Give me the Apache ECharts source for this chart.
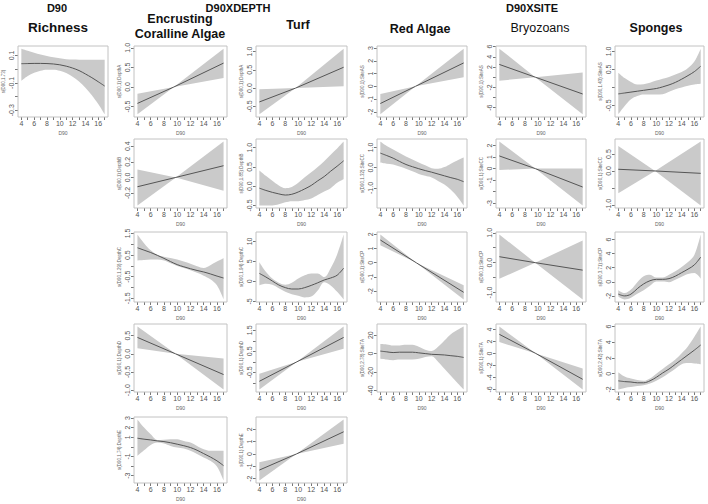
<!DOCTYPE html>
<html><head><meta charset="utf-8">
<script src="https://cdn.jsdelivr.net/npm/echarts@6/dist/echarts.min.js"></script>
<style>html,body{margin:0;padding:0;background:#fff}#c{width:708px;height:504px}</style>
</head><body><div id="c"></div>
<script>
// ---------- data ----------
const D90 = [4,5,6,7,8,9,10,11,12,13,14,15,16,17];
const X_TICKS = [4,5,6,7,8,9,10,11,12,13,14,15,16,17];
const X_LABELS = [4,6,8,10,12,14,16];

// Richness (D90)
const richFit = [0.04,0.041,0.042,0.042,0.041,0.038,0.032,0.022,0.008,-0.01,-0.035,-0.062,-0.092,-0.123];
const richLo  = [-0.085,-0.05,-0.027,-0.012,-0.004,-0.004,-0.012,-0.028,-0.055,-0.09,-0.135,-0.19,-0.255,-0.33];
const richHi  = [0.15,0.135,0.12,0.107,0.096,0.087,0.079,0.073,0.07,0.069,0.069,0.069,0.069,0.069];

// Encrusting Coralline Algae
const ecaAX = [4,9.5,17], ecaAFit = [-0.42,0,0.61], ecaALo = [-0.7,0,0.23], ecaAHi = [-0.17,0,0.98];
const ecaBX = [4,9.8,17], ecaBFit = [-0.12,0,0.15], ecaBLo = [-0.36,0,-0.17], ecaBHi = [0.1,0,0.46];
const ecaCFit = [0.84,0.73,0.62,0.49,0.35,0.2,0.06,-0.04,-0.13,-0.21,-0.28,-0.37,-0.47,-0.56];
const ecaCHi  = [1.45,1.05,0.72,0.52,0.43,0.37,0.3,0.2,0.1,-0.02,-0.1,0.03,0.2,0.35];
const ecaCLo  = [0.25,0.27,0.3,0.3,0.25,0.12,0.0,-0.1,-0.2,-0.32,-0.45,-0.62,-0.9,-1.55];
const ecaDX = [4,9.75,17], ecaDFit = [0.45,0,-0.57], ecaDLo = [0.15,0,-0.98], ecaDHi = [0.75,0,-0.13];
const ecaEFit = [0.9,0.8,0.72,0.62,0.55,0.43,0.28,0.12,-0.07,-0.35,-0.7,-1.05,-1.45,-1.95];
const ecaEHi  = [2.85,2.0,1.3,0.72,0.75,0.8,0.8,0.62,0.45,0.1,-0.24,-0.4,-0.4,-0.4];
const ecaELo  = [-0.93,-0.35,0.2,0.45,0.35,0.1,-0.07,-0.17,-0.4,-0.75,-1.1,-1.45,-2.05,-3.5];

// Turf
const turfAX = [4,9.6,17], turfAFit = [-0.38,0,0.57], turfALo = [-0.72,0,0.05], turfAHi = [-0.03,0,1.08];
const turfBFit = [-0.05,-0.11,-0.16,-0.2,-0.23,-0.21,-0.15,-0.07,0.02,0.14,0.25,0.39,0.52,0.66];
const turfBHi  = [0.41,0.27,0.14,0.02,-0.05,-0.02,0.09,0.23,0.36,0.5,0.65,0.82,0.98,1.16];
const turfBLo  = [-0.5,-0.5,-0.5,-0.47,-0.42,-0.39,-0.39,-0.36,-0.32,-0.23,-0.14,-0.05,0.09,0.18];
const turfCFit = [2.0,1.1,0.1,-0.9,-1.55,-1.9,-1.9,-1.55,-1.0,-0.35,0.35,0.85,1.55,3.3];
const turfCHi  = [4.8,2.4,0.7,-0.35,-0.85,-0.35,0.7,1.55,2.0,2.0,1.1,3.3,6.7,11.7];
const turfCLo  = [-1.0,-0.6,-0.85,-1.7,-2.6,-3.2,-3.6,-4.0,-3.8,-2.3,-0.2,-1.0,-2.6,-4.5];
const turfDX = [4,9.8,17], turfDFit = [-0.93,0,1.16], turfDLo = [-1.32,0,0.62], turfDHi = [-0.57,0,1.68];
const turfEX = [4,9.7,17], turfEFit = [-1.3,0,1.8], turfELo = [-2.15,0,0.83], turfEHi = [-0.67,0,2.8];

// Red Algae
const redAX = [4,9.5,17], redAFit = [-1.35,0,1.83], redALo = [-2.2,0,0.7], redAHi = [-0.6,0,2.95];
const redBFit = [0.72,0.6,0.47,0.31,0.16,0.05,-0.05,-0.14,-0.22,-0.31,-0.4,-0.49,-0.57,-0.69];
const redBHi  = [1.29,1.07,0.9,0.72,0.55,0.4,0.26,0.12,-0.02,-0.05,0.03,0.2,0.36,0.5];
const redBLo  = [0.26,0.2,0.16,0.06,-0.05,-0.18,-0.31,-0.4,-0.48,-0.65,-0.83,-1.09,-1.43,-1.86];
const redCX = [4,9.6,17], redCFit = [1.6,0,-2.08], redCLo = [1.23,0,-2.58], redCHi = [1.98,0,-1.58];
const redDFit = [2.7,1.9,1.1,1.5,1.5,1.5,0.8,0,-0.8,-1.1,-1.5,-2.3,-3.0,-4.2];
const redDHi  = [10.3,9.9,8.8,8.8,9.5,9.5,7.3,4.2,2.7,7.3,14.1,21,25.6,29.4];
const redDLo  = [-5.7,-6.5,-7.3,-6.5,-6.5,-6.5,-5.7,-3.8,-3.0,-8.8,-16.4,-24,-31.7,-39];

// Bryozoans
const bryAX = [4,9.6,17], bryAFit = [2.5,0,-3.3], bryALo = [-0.7,0,-7.3], bryAHi = [5.6,0,0.9];
const bryBX = [4,9.6,17], bryBFit = [1.1,0,-1.6], bryBLo = [-0.12,0,-3.2], bryBHi = [2.35,0,0.02];
const bryCX = [4,9.6,17], bryCFit = [0.2,0,-0.25], bryCLo = [-0.54,0,-1.23], bryCHi = [0.94,0,0.74];
const bryDX = [4,9.7,17], bryDFit = [3.2,0,-4.3], bryDLo = [1.9,0,-6.0], bryDHi = [4.5,0,-2.5];

// Sponges
const spoAFit = [-0.18,-0.155,-0.13,-0.105,-0.08,-0.055,-0.03,0.015,0.07,0.14,0.23,0.33,0.44,0.59];
const spoAHi  = [0.41,0.26,0.15,0.08,0.09,0.13,0.19,0.24,0.29,0.36,0.43,0.54,0.72,1.08];
const spoALo  = [-0.75,-0.52,-0.33,-0.24,-0.2,-0.2,-0.2,-0.19,-0.12,-0.05,0.0,0.05,0.08,0.1];
const spoBX = [4,9.8,17], spoBFit = [0.05,0,-0.07], spoBLo = [-0.66,0,-1.02], spoBHi = [0.74,0,0.87];
const spoCFit = [-1.75,-2.0,-1.75,-0.97,-0.3,0.15,0.35,0.35,0.45,0.8,1.3,1.8,2.4,3.5];
const spoCHi  = [-1.2,-1.6,-1.1,-0.05,0.8,1.0,0.6,0.6,1.0,1.5,2.1,2.8,3.8,6.7];
const spoCLo  = [-2.1,-2.5,-2.25,-1.7,-1.2,-0.55,0.05,0.05,-0.05,0.3,0.7,1.1,1.25,0.45];
const spoDFit = [-0.9,-1.0,-1.05,-1.15,-1.15,-0.9,-0.45,0.1,0.6,1.2,1.8,2.4,3.0,3.65];
const spoDHi  = [0.2,-0.35,-0.6,-0.8,-0.9,-0.6,0.0,0.6,1.2,1.8,2.6,3.5,4.7,6.0];
const spoDLo  = [-2.0,-1.8,-1.7,-1.55,-1.45,-1.25,-0.9,-0.45,0.1,0.65,1.2,1.35,1.3,1.2];

// y tick values and labels
const tRich = [-0.3,-0.2,-0.1,0,0.1], lRich = [-0.3,-0.1,0.1];
const tHalf1 = [-0.5,0,0.5,1], tB2 = [-0.2,0,0.2,0.4];
const tC15 = [-1.5,-1,-0.5,0,0.5,1,1.5], lC15 = [-1.5,-0.5,0.5,1.5];
const tD1 = [-1,-0.5,0,0.5];
const tE3 = [-3,-2,-1,0,1,2,3], lE3 = [-3,-1,1,2,3];
const tTurfC = [-5,0,5,10];
const tInt2 = [-2,-1,0,1,2], tRedA = [-2,-1,0,1,2,3];
const tRedB = [-2,-1,0,1];
const tRedD = [-40,-20,0,20];
const tBryA = [-6,-4,-2,0,2,4,6], lBryA = [-6,-2,2,4,6];
const tBryB = [-3,-2,-1,0,1,2], lBryB = [-3,-1,0,1,2];
const tBryC = [-1,-0.5,0,0.5,1], lBryC = [-1,0,1];
const tBryD = [-6,-4,-2,0,2,4];
const tSpoA = [-0.5,0,0.5,1], lSpoA = [-0.5,0.5,1];
const tSpoB = [-1,-0.5,0,0.5], lSpoB = [-1,0,0.5];
const tSpoCD = [-2,0,2,4,6];

// ---------- layout ----------
const COLS = [[14,108],[134,227],[256,347],[377,467],[496,586],[615,704]];
const ROWS = [[46,117],[139,208],[232,302],[324,392],[417,483]];

const panels = [
  {c:0,r:0,n:'s(D90,1.73)',x:D90,f:richFit,lo:richLo,hi:richHi,t:tRich,l:lRich,d:1,sm:true},
  {c:1,r:0,n:'s(D90,1):DepthA',x:ecaAX,f:ecaAFit,lo:ecaALo,hi:ecaAHi,t:tHalf1,l:tHalf1,d:1},
  {c:1,r:1,n:'s(D90,1):DepthB',x:ecaBX,f:ecaBFit,lo:ecaBLo,hi:ecaBHi,t:tB2,l:tB2,d:1},
  {c:1,r:2,n:'s(D90,1.29):DepthC',x:D90,f:ecaCFit,lo:ecaCLo,hi:ecaCHi,t:tC15,l:lC15,d:1,sm:true},
  {c:1,r:3,n:'s(D90,1):DepthD',x:ecaDX,f:ecaDFit,lo:ecaDLo,hi:ecaDHi,t:tD1,l:tD1,d:1},
  {c:1,r:4,n:'s(D90,1.74):DepthE',x:D90,f:ecaEFit,lo:ecaELo,hi:ecaEHi,t:tE3,l:lE3,d:0,sm:true},
  {c:2,r:0,n:'s(D90,1):DepthA',x:turfAX,f:turfAFit,lo:turfALo,hi:turfAHi,t:tHalf1,l:tHalf1,d:1},
  {c:2,r:1,n:'s(D90,1.85):DepthB',x:D90,f:turfBFit,lo:turfBLo,hi:turfBHi,t:tHalf1,l:tHalf1,d:1,sm:true},
  {c:2,r:2,n:'s(D90,1.94):DepthC',x:D90,f:turfCFit,lo:turfCLo,hi:turfCHi,t:tTurfC,l:tTurfC,d:0,sm:true},
  {c:2,r:3,n:'s(D90,1):DepthD',x:turfDX,f:turfDFit,lo:turfDLo,hi:turfDHi,t:tC15,l:lC15,d:1},
  {c:2,r:4,n:'s(D90,1):DepthE',x:turfEX,f:turfEFit,lo:turfELo,hi:turfEHi,t:tInt2,l:tInt2,d:0},
  {c:3,r:0,n:'s(D90,1):SiteAS',x:redAX,f:redAFit,lo:redALo,hi:redAHi,t:tRedA,l:tRedA,d:0},
  {c:3,r:1,n:'s(D90,1.32):SiteCC',x:D90,f:redBFit,lo:redBLo,hi:redBHi,t:tRedB,l:tRedB,d:1,sm:true},
  {c:3,r:2,n:'s(D90,1):SiteCP',x:redCX,f:redCFit,lo:redCLo,hi:redCHi,t:tInt2,l:tInt2,d:0},
  {c:3,r:3,n:'s(D90,2.78):SiteTA',x:D90,f:redDFit,lo:redDLo,hi:redDHi,t:tRedD,l:tRedD,d:0,sm:true},
  {c:4,r:0,n:'s(D90,1):SiteAS',x:bryAX,f:bryAFit,lo:bryALo,hi:bryAHi,t:tBryA,l:lBryA,d:0},
  {c:4,r:1,n:'s(D90,1):SiteCC',x:bryBX,f:bryBFit,lo:bryBLo,hi:bryBHi,t:tBryB,l:lBryB,d:0},
  {c:4,r:2,n:'s(D90,1):SiteCP',x:bryCX,f:bryCFit,lo:bryCLo,hi:bryCHi,t:tBryC,l:lBryC,d:1},
  {c:4,r:3,n:'s(D90,1):SiteTA',x:bryDX,f:bryDFit,lo:bryDLo,hi:bryDHi,t:tBryD,l:tBryD,d:0},
  {c:5,r:0,n:'s(D90,1.43):SiteAS',x:D90,f:spoAFit,lo:spoALo,hi:spoAHi,t:tSpoA,l:lSpoA,d:1,sm:true},
  {c:5,r:1,n:'s(D90,1):SiteCC',x:spoBX,f:spoBFit,lo:spoBLo,hi:spoBHi,t:tSpoB,l:lSpoB,d:1},
  {c:5,r:2,n:'s(D90,3.71):SiteCP',x:D90,f:spoCFit,lo:spoCLo,hi:spoCHi,t:tSpoCD,l:tSpoCD,d:0,sm:true},
  {c:5,r:3,n:'s(D90,2.42):SiteTA',x:D90,f:spoDFit,lo:spoDLo,hi:spoDHi,t:tSpoCD,l:tSpoCD,d:0,sm:true}
];

const FONT = "'Liberation Sans Narrow','Liberation Sans',Arial,sans-serif";
const grid=[], xAxis=[], yAxis=[], series=[];
panels.forEach((p,i)=>{
  const [l,r]=COLS[p.c], [t,b]=ROWS[p.r];
  grid.push({left:l,top:t,width:r-l,height:b-t,show:true,borderColor:'#c2c2c2',borderWidth:1,backgroundColor:'transparent',z:5});
  const mn=Math.min(...p.lo), mx=Math.max(...p.hi), pad=(mx-mn)*0.04;
  xAxis.push({gridIndex:i,type:'value',min:3.48,max:17.52,
    axisLine:{show:false,onZero:false},splitLine:{show:false},
    axisTick:{show:true,customValues:X_TICKS,length:3,lineStyle:{color:'#777',width:1}},
    axisLabel:{customValues:X_LABELS,fontSize:7,color:'#555',margin:3,fontFamily:FONT},
    name:'D90',nameLocation:'middle',nameGap:13,nameTextStyle:{fontSize:5,color:'#666',fontFamily:FONT}});
  yAxis.push({gridIndex:i,type:'value',min:mn-pad,max:mx+pad,
    axisLine:{show:false,onZero:false},splitLine:{show:false},
    axisTick:{show:true,customValues:p.t,length:3,lineStyle:{color:'#777',width:1}},
    axisLabel:{customValues:p.l,fontSize:7,color:'#555',margin:3,rotate:90,fontFamily:FONT,
      formatter:(v)=>Number(v).toFixed(p.d)},
    name:p.n,nameLocation:'middle',nameRotate:90,nameGap:12,nameTextStyle:{fontSize:4.5,color:'#666',fontFamily:FONT}});
  const sm = p.sm ? 0.35 : false;
  // band: value column first so the stack acts on y (stacked by index)
  series.push({type:'line',xAxisIndex:i,yAxisIndex:i,encode:{x:1,y:0},data:p.x.map((x,k)=>[p.lo[k],x]),
    stack:'band'+i,stackStrategy:'all',symbol:'none',smooth:sm,lineStyle:{opacity:0},silent:true,z:1});
  series.push({type:'line',xAxisIndex:i,yAxisIndex:i,encode:{x:1,y:0},data:p.x.map((x,k)=>[p.hi[k]-p.lo[k],x]),
    stack:'band'+i,stackStrategy:'all',symbol:'none',smooth:sm,lineStyle:{opacity:0},
    areaStyle:{color:'#cacaca',opacity:1},silent:true,z:1});
  series.push({type:'line',xAxisIndex:i,yAxisIndex:i,data:p.x.map((x,k)=>[x,p.f[k]]),
    symbol:'none',smooth:sm,lineStyle:{color:'#555',width:1},silent:true,z:3});
});

const txt=(s,x,y,size,weight)=>({type:'text',x:x,y:y,style:{text:s,fontSize:size,fontWeight:weight,
  fontFamily:FONT,fill:'#111',textAlign:'center',textVerticalAlign:'middle'}});
const graphic=[
  txt('D90',57,8,11,'bold'),
  txt('D90XDEPTH',238,8,11,'bold'),
  txt('D90XSITE',532,8,11,'bold'),
  txt('Richness',58,27,13.5,'bold'),
  txt('Encrusting',180,19,12.5,'bold'),
  txt('Coralline Algae',180,34,12.5,'bold'),
  txt('Turf',298,25,12.5,'bold'),
  txt('Red Algae',420,29,12.5,'bold'),
  txt('Bryozoans',540,28,12.5,'normal'),
  txt('Sponges',656,28,12.5,'bold')
];

const chart=echarts.init(document.getElementById('c'),null,{renderer:'svg'});
chart.setOption({animation:false,backgroundColor:'#fff',grid,xAxis,yAxis,series,graphic});
</script></body></html>
